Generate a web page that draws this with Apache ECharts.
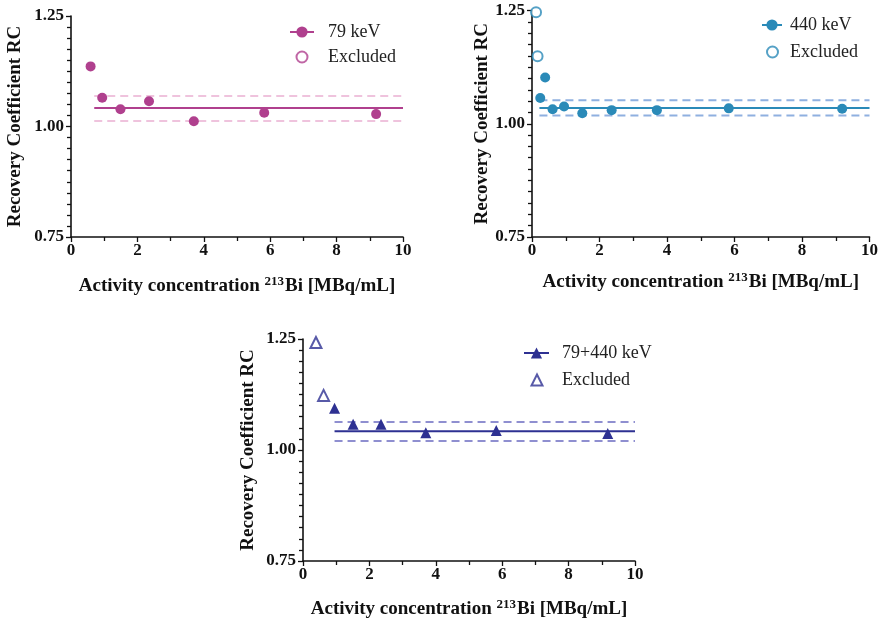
<!DOCTYPE html>
<html>
<head>
<meta charset="utf-8">
<script src="https://cdn.jsdelivr.net/npm/echarts@6/dist/echarts.min.js"></script>
<style>html,body{margin:0;padding:0;background:#fff}#c{width:881px;height:621px}</style>
</head>
<body>
<div id="c"></div>
<script>
// ---- data ----
const xTicks = [0, 2, 4, 6, 8, 10];
const yTicks = [0.75, 1.00, 1.25];

// 79 keV
const conc79 = [0.59, 0.94, 1.49, 2.35, 3.70, 5.82, 9.19];
const rc79 = [1.136, 1.065, 1.039, 1.057, 1.012, 1.031, 1.028];
const excl79X = [];
const excl79Y = [];
const mean79 = 1.042;
const band79 = [1.0125, 1.069];
const fitStart79 = 0.70;

// 440 keV
const conc440 = [0.245, 0.39, 0.61, 0.95, 1.49, 2.36, 3.70, 5.83, 9.19];
const rc440 = [1.057, 1.102, 1.032, 1.038, 1.023, 1.030, 1.030, 1.034, 1.033];
const excl440X = [0.12, 0.165];
const excl440Y = [1.246, 1.149];
const mean440 = 1.035;
const band440 = [1.018, 1.052];
const fitStart440 = 0.22;

// 79+440 keV
const concSum = [0.95, 1.51, 2.35, 3.70, 5.82, 9.18];
const rcSum = [1.094, 1.058, 1.058, 1.039, 1.044, 1.037];
const exclSumX = [0.39, 0.62];
const exclSumY = [1.242, 1.123];
const meanSum = 1.042;
const bandSum = [1.020, 1.063];
const fitStartSum = 0.95;

const panels = [
  {name: '79 keV', conc: conc79, rc: rc79, ex: excl79X, ey: excl79Y, mean: mean79, band: band79, start: fitStart79,
   color: '#b0408e', dash: '#efc3dd', sym: 'circle', esym: 'emptyCircle', size: 10,
   grid: {left: 71, top: 16, width: 332, height: 221}, yGap: 46, xGap: 38.5,
   leg1: {left: 289, top: 23, w: 24, pad: 9}, leg2: {left: 295.5, top: 48, pad: 15.5}},
  {name: '440 keV', conc: conc440, rc: rc440, ex: excl440X, ey: excl440Y, mean: mean440, band: band440, start: fitStart440,
   color: '#2a8ab8', dash: '#8fb0e0', sym: 'circle', esym: 'emptyCircle', size: 10,
   grid: {left: 532, top: 10.5, width: 339, height: 226.5}, yGap: 40, xGap: 34.5,
   leg1: {left: 761, top: 16, w: 20, pad: 3}, leg2: {left: 766, top: 43, pad: 7}},
  {name: '79+440 keV', conc: concSum, rc: rcSum, ex: exclSumX, ey: exclSumY, mean: meanSum, band: bandSum, start: fitStartSum,
   color: '#2e3192', dash: '#8f8fd0', sym: 'triangle', esym: 'emptyTriangle', size: 11,
   grid: {left: 303, top: 339, width: 332, height: 222}, yGap: 45, xGap: 37.5,
   leg1: {left: 523, top: 344, w: 25, pad: 8}, leg2: {left: 530.5, top: 371, pad: 14.5}}
];

const serif = '"Liberation Serif", "Times New Roman", serif';
const grids = [], xAxes = [], yAxes = [], legends = [], series = [];

panels.forEach((p, i) => {
  grids.push(Object.assign({containLabel: false}, p.grid));
  xAxes.push({
    type: 'value', gridIndex: i, min: xTicks[0], max: xTicks[xTicks.length - 1], interval: xTicks[1] - xTicks[0],
    splitLine: {show: false},
    axisLine: {lineStyle: {color: '#111', width: 1.6}},
    axisTick: {inside: false, length: 5, lineStyle: {color: '#111', width: 1.3}},
    minorTick: {show: true, splitNumber: 2, length: 4, lineStyle: {color: '#111', width: 1.3}},
    axisLabel: {margin: 5, fontFamily: serif, fontWeight: 'bold', fontSize: 17, color: '#111'},
    name: 'Activity concentration {sup|213}Bi [MBq/mL]',
    nameLocation: 'middle', nameGap: p.xGap,
    nameTextStyle: {fontFamily: serif, fontWeight: 'bold', fontSize: 19, color: '#111',
      rich: {sup: {fontFamily: serif, fontWeight: 'bold', fontSize: 13, color: '#111', verticalAlign: 'top', padding: [0, 1, 9, 0]}}}
  });
  yAxes.push({
    type: 'value', gridIndex: i, min: yTicks[0], max: yTicks[yTicks.length - 1], interval: yTicks[1] - yTicks[0],
    splitLine: {show: false},
    axisLine: {lineStyle: {color: '#111', width: 1.6}},
    axisTick: {length: 5, lineStyle: {color: '#111', width: 1.3}},
    minorTick: {show: true, splitNumber: 10, length: 4, lineStyle: {color: '#111', width: 1.3}},
    axisLabel: {margin: 7, fontFamily: serif, fontWeight: 'bold', fontSize: 17, color: '#111', formatter: v => v.toFixed(2)},
    name: 'Recovery Coefficient RC', nameLocation: 'middle', nameGap: p.yGap, nameRotate: 90,
    nameTextStyle: {fontFamily: serif, fontWeight: 'bold', fontSize: 19, color: '#111'}
  });
  legends.push({
    left: p.leg1.left, top: p.leg1.top, orient: 'vertical', padding: 0,
    itemWidth: p.leg1.w, itemHeight: 14, selectedMode: false,
    data: [p.name],
    textStyle: {fontFamily: serif, fontSize: 18, color: '#222', padding: [0, 0, 0, p.leg1.pad]}
  });
  legends.push({
    left: p.leg2.left, top: p.leg2.top, orient: 'vertical', padding: 0,
    itemWidth: 11, itemHeight: 11, selectedMode: false,
    data: ['Excluded#' + i],
    formatter: n => n.split('#')[0],
    textStyle: {fontFamily: serif, fontSize: 18, color: '#222', padding: [0, 0, 0, p.leg2.pad]}
  });
  series.push({
    type: 'line', name: p.name, xAxisIndex: i, yAxisIndex: i,
    data: [[p.start, p.mean], [xTicks[xTicks.length - 1], p.mean]],
    symbol: p.sym, symbolSize: p.size, showSymbol: false,
    lineStyle: {color: p.color, width: 2}, itemStyle: {color: p.color}, z: 3, silent: true
  });
  p.band.forEach(b => series.push({
    type: 'line', name: 'band' + i, xAxisIndex: i, yAxisIndex: i,
    data: [[p.start, b], [xTicks[xTicks.length - 1], b]], symbol: 'none',
    lineStyle: {color: p.dash, width: 2, type: [8, 5]}, z: 2, silent: true
  }));
  series.push({
    type: 'scatter', name: 'pts' + i, xAxisIndex: i, yAxisIndex: i,
    data: p.conc.map((x, k) => [x, p.rc[k]]), symbol: p.sym, symbolSize: p.size,
    itemStyle: {color: p.color, opacity: 1}, z: 4
  });
  series.push({
    type: 'scatter', name: 'Excluded#' + i, xAxisIndex: i, yAxisIndex: i,
    data: p.ex.map((x, k) => [x, p.ey[k]]), symbol: p.esym, symbolSize: p.size,
    itemStyle: {color: p.color, borderColor: p.color, borderWidth: 2}, z: 4
  });
});

const chart = echarts.init(document.getElementById('c'), null, {renderer: 'canvas'});
chart.setOption({
  animation: false,
  backgroundColor: '#fff',
  grid: grids, xAxis: xAxes, yAxis: yAxes, legend: legends, series: series
});
</script>
</body>
</html>
